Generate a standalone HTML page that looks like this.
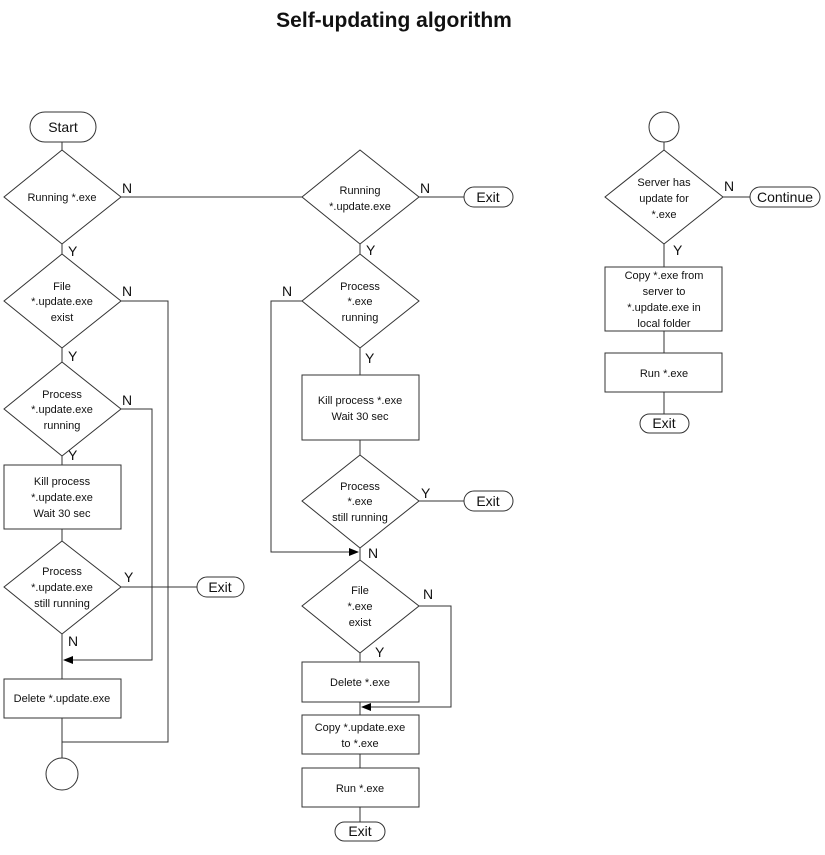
<!DOCTYPE html>
<html><head><meta charset="utf-8"><style>
body{margin:0;background:#fff}
svg text{font-family:"Liberation Sans",sans-serif;font-size:11px;fill:#111}
.l{font-size:14px}
</style></head><body>
<svg width="825" height="850" viewBox="0 0 825 850" xmlns="http://www.w3.org/2000/svg">
<defs><marker id="a" markerWidth="10" markerHeight="8" refX="9" refY="4" orient="auto" markerUnits="userSpaceOnUse"><path d="M0,0 L10,4 L0,8z" fill="#000"/></marker></defs>
<text x="394" y="27" text-anchor="middle" style="font-size:21px;font-weight:bold">Self-updating algorithm</text>
<g fill="#fff" stroke="#333" stroke-width="1">
<!-- left column lines -->
<path d="M62,142V150 M62,244V254 M62,348V362 M62,456V465 M62,529V541 M62,634V679 M62,718V758" fill="none"/>
<path d="M121,197H302" fill="none"/>
<path d="M121,301H168V742H62" fill="none"/>
<path d="M121,409H152V660H64" fill="none" marker-end="url(#a)"/>
<path d="M121,587H197" fill="none"/>
<!-- left shapes -->
<rect x="30" y="112" width="66" height="30" rx="15"/>
<polygon points="62,150 121,197 62,244 4,197"/>
<polygon points="62,254 121,301 62,348 4,301"/>
<polygon points="62,362 121,409 62,456 4,409"/>
<rect x="4" y="465" width="117" height="64"/>
<polygon points="62,541 121,587 62,634 4,587"/>
<rect x="4" y="679" width="117" height="39"/>
<circle cx="62" cy="774" r="16"/>
<rect x="197" y="577" width="47" height="20" rx="10"/>
<!-- middle lines -->
<path d="M360,244V254 M360,348V375 M360,440V455 M360,548V560 M360,653V662 M360,702V715 M360,754V768 M360,807V822" fill="none"/>
<path d="M419,197H464 M419,501H464" fill="none"/>
<path d="M302,301H271V552H358" fill="none" marker-end="url(#a)"/>
<path d="M419,606H451V707H362" fill="none" marker-end="url(#a)"/>
<polygon points="360,150 419,197 360,244 302,197"/>
<polygon points="360,254 419,301 360,348 302,301"/>
<rect x="302" y="375" width="117" height="65"/>
<polygon points="360,455 419,501 360,548 302,501"/>
<polygon points="360,560 419,606 360,653 302,606"/>
<rect x="302" y="662" width="117" height="40"/>
<rect x="302" y="715" width="117" height="39"/>
<rect x="302" y="768" width="117" height="39"/>
<rect x="464" y="187" width="49" height="20" rx="10"/>
<rect x="464" y="491" width="49" height="20" rx="10"/>
<rect x="335" y="822" width="50" height="19" rx="9.5"/>
<!-- right -->
<path d="M664,142V150 M664,244V267 M664,331V353 M664,392V414 M723,197H750" fill="none"/>
<circle cx="664" cy="127" r="15"/>
<polygon points="664,150 723,197 664,244 605,197"/>
<rect x="605" y="267" width="117" height="64"/>
<rect x="605" y="353" width="117" height="39"/>
<rect x="640" y="414" width="49" height="19" rx="9.5"/>
<rect x="750" y="187" width="70" height="20" rx="10"/>
</g>
<g text-anchor="middle">
<text class="l" x="63" y="132">Start</text>
<text x="62" y="201">Running *.exe</text>
<text x="62" y="290">File</text><text x="62" y="305">*.update.exe</text><text x="62" y="321">exist</text>
<text x="62" y="398">Process</text><text x="62" y="413">*.update.exe</text><text x="62" y="429">running</text>
<text x="62" y="485">Kill process</text><text x="62" y="501">*.update.exe</text><text x="62" y="517">Wait 30 sec</text>
<text x="62" y="575">Process</text><text x="62" y="591">*.update.exe</text><text x="62" y="607">still running</text>
<text x="62" y="702">Delete *.update.exe</text>
<text class="l" x="220" y="592">Exit</text>
<text x="360" y="194">Running</text><text x="360" y="210">*.update.exe</text>
<text x="360" y="290">Process</text><text x="360" y="305">*.exe</text><text x="360" y="321">running</text>
<text x="360" y="404">Kill process *.exe</text><text x="360" y="420">Wait 30 sec</text>
<text x="360" y="490">Process</text><text x="360" y="505">*.exe</text><text x="360" y="521">still running</text>
<text x="360" y="594">File</text><text x="360" y="610">*.exe</text><text x="360" y="626">exist</text>
<text x="360" y="686">Delete *.exe</text>
<text x="360" y="731">Copy *.update.exe</text><text x="360" y="747">to *.exe</text>
<text x="360" y="792">Run *.exe</text>
<text class="l" x="488" y="202">Exit</text>
<text class="l" x="488" y="506">Exit</text>
<text class="l" x="360" y="836">Exit</text>
<text x="664" y="186">Server has</text><text x="664" y="202">update for</text><text x="664" y="218">*.exe</text>
<text x="664" y="279">Copy *.exe from</text><text x="664" y="295">server to</text><text x="664" y="311">*.update.exe in</text><text x="664" y="327">local folder</text>
<text x="664" y="377">Run *.exe</text>
<text class="l" x="664" y="428">Exit</text>
<text class="l" x="785" y="202">Continue</text>
</g>
<g class="l">
<text class="l" x="122" y="193">N</text>
<text class="l" x="68" y="256">Y</text>
<text class="l" x="122" y="296">N</text>
<text class="l" x="68" y="361">Y</text>
<text class="l" x="122" y="405">N</text>
<text class="l" x="68" y="460">Y</text>
<text class="l" x="124" y="582">Y</text>
<text class="l" x="68" y="646">N</text>
<text class="l" x="420" y="193">N</text>
<text class="l" x="366" y="255">Y</text>
<text class="l" x="282" y="296">N</text>
<text class="l" x="365" y="363">Y</text>
<text class="l" x="421" y="498">Y</text>
<text class="l" x="368" y="558">N</text>
<text class="l" x="423" y="599">N</text>
<text class="l" x="375" y="657">Y</text>
<text class="l" x="724" y="191">N</text>
<text class="l" x="673" y="255">Y</text>
</g>
</svg>
</body></html>
